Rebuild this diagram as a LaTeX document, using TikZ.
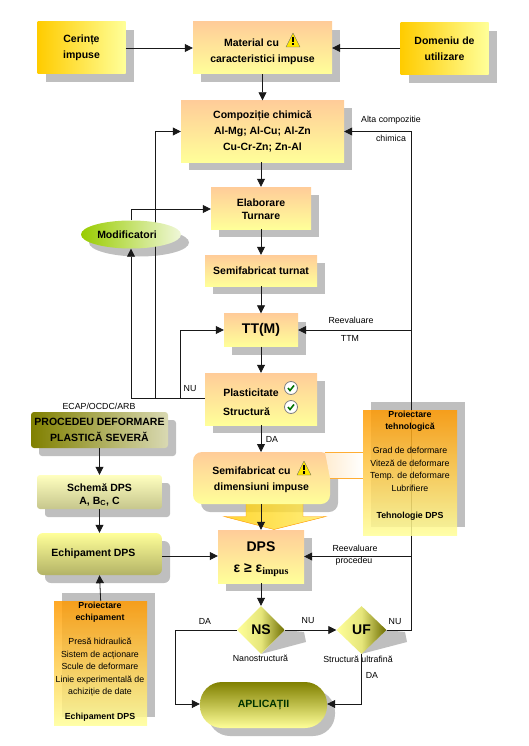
\documentclass[tikz,border=0pt]{standalone}
\usepackage{fontspec}
\setmainfont{Liberation Sans}
\newfontfamily\serifsub{Liberation Serif}
\usetikzlibrary{shapes.geometric,shadows,arrows.meta}
\definecolor{umbra}{HTML}{BFBFBF}
\definecolor{piersica}{HTML}{FFCC99}
\definecolor{galben}{HTML}{FFFF99}
\definecolor{oliv}{HTML}{808000}
\definecolor{auriu}{HTML}{FFCC00}
\definecolor{portocal}{HTML}{FF9900}
\definecolor{verde}{HTML}{99CC00}
\tikzset{
bloc/.style={rectangle, inner sep=1pt, align=center, font=\fontsize{10.5}{16}\bfseries},
umbrit/.style={drop shadow={shadow xshift=8pt, shadow yshift=-8pt, fill=umbra, opacity=1}},
cald/.style={top color=piersica, bottom color=galben},
lateral/.style={left color=auriu, right color=galben},
fl/.style={thick, -{Triangle[length=8pt,width=8pt]}, black!90},
eti/.style={font=\fontsize{8.8}{12.4}\selectfont, inner sep=0pt, align=center},
romb/.style={diamond, inner sep=0pt, minimum width=#1, minimum height=48pt, left color=galben, right color=oliv!85!black, middle color=galben!80!oliv, font=\fontsize{14}{15}\bfseries},
romb/.default=48pt,
proiect/.style={rectangle, inner sep=0pt, top color=portocal, bottom color=galben, fill opacity=.85, anchor=north west},
avert/.pic={
\fill[draw=black!60, fill=yellow!90!orange, line join=round] (-7,7) -- (0,-7) -- (7,7) -- cycle;
\fill (-1,-3) rectangle (1,2);
\fill (-1,3) rectangle (1,5.5);
},
bifa/.pic={
\fill[white, draw=black!50, thick] (0,0) circle (6.5);
\draw[green!45!black, line width=1.6pt] (-3,0) -- (-1,2.5) -- (3,-2.5);
},
}
\begin{document}
\begin{tikzpicture}[x=1pt,y=-1pt]
\useasboundingbox (0,0) rectangle (529,746);

\node[bloc, umbrit, lateral, minimum width=88pt, minimum height=52pt] (Cer) at (81.5,48) {Cerințe\\impuse};
\node[bloc, umbrit, cald, minimum width=139pt, minimum height=52pt] (Mat) at (262.5,48) {\rule{0pt}{16pt}Material cu\kern22pt\\caracteristici impuse};
\node[bloc, umbrit, lateral, minimum width=88pt, minimum height=52pt] (Dom) at (444.5,49) {Domeniu de\\utilizare};
\node[bloc, umbrit, cald, minimum width=163pt, minimum height=62pt] (Comp) at (262.5,131.5) {Compoziție chimică\\Al-Mg; Al-Cu; Al-Zn\\Cu-Cr-Zn; Zn-Al};
\node[bloc, umbrit, cald, minimum width=100pt, minimum height=42pt, font=\fontsize{10.5}{13}\bfseries] (Ela) at (261,208) {\rule{0pt}{11pt}Elaborare\\Turnare};
\node[bloc, umbrit, cald, minimum width=112pt, minimum height=31pt] (Sft) at (261,270.5) {Semifabricat turnat};
\node[bloc, umbrit, cald, minimum width=74pt, minimum height=33pt, font=\fontsize{14}{16}\bfseries] (TT) at (261,330) {TT(M)};
\node[bloc, umbrit, cald, minimum width=112pt, minimum height=52pt, font=\fontsize{10.5}{19}\bfseries] (Pla) at (261,399) {\rule{0pt}{14pt}Plasticitate\kern20pt\\Structură\kern29pt};

\fill[umbra, rounded corners=9pt] (201,460) rectangle (338,512);
\shade[left color=auriu, right color=galben!60!auriu, fill opacity=.8, draw=portocal, thin] (246,500) -- (246,516.5) -- (224,516.5) -- (274,529.5) -- (326,516.5) -- (303,516.5) -- (303,500) -- cycle;
\node[bloc, cald, rounded corners=9pt, minimum width=137pt, minimum height=52pt] (Sem) at (261.5,478) {\rule{0pt}{12pt}Semifabricat cu\kern20pt\\dimensiuni impuse};
\shade[left color=portocal!18, right color=white] (325,452) -- (363,452) -- (363,478) -- (330,478) -- cycle;
\draw[portocal!80] (325,452) -- (363,452);
\draw[portocal!80] (330,478) -- (363,478);

\node[bloc, umbrit, cald, minimum width=86pt, minimum height=53pt, font=\fontsize{14}{21}\bfseries] (DPS) at (261,556.5) {\rule{0pt}{16pt}DPS\\ε ≥ ε\raisebox{-2pt}{\fontsize{10}{10}\serifsub\bfseries impus}};

\fill[umbra] (285,630) -- (304,632) -- (306,642) -- (261,654) -- cycle;
\fill[umbra] (386,630) -- (405,632) -- (407,642) -- (361,654) -- cycle;
\node[romb] (NS) at (261,630) {NS};
\node[romb=50pt] (UF) at (361.5,630) {UF};

\node[bloc, umbrit, rounded corners=22pt, top color=oliv, bottom color=galben, minimum width=127pt, minimum height=46pt, text=green!20!black] (Apl) at (263.5,705) {APLICAȚII};

\node[bloc, umbrit, rounded corners=3pt, left color=oliv, right color=oliv!30!white, minimum width=137pt, minimum height=36pt] (Proc) at (99.5,430) {PROCEDEU DEFORMARE\\PLASTICĂ SEVERĂ};
\node[bloc, umbrit, rounded corners=3pt, top color=yellow!25!white, bottom color=oliv!45!white, minimum width=125pt, minimum height=34pt, font=\fontsize{10.5}{13}\bfseries] (Sch) at (99.5,492) {\rule{0pt}{13pt}Schemă DPS\\A, B\textsubscript{C}, C};
\node[bloc, umbrit, rounded corners=6pt, top color=galben, bottom color=oliv!60!white, minimum width=125pt, minimum height=42pt] (Ech) at (99.5,554) {\kern-12pt Echipament DPS};

\fill[umbra] (62,593) rectangle (155,717);
\node[proiect, minimum width=93pt, minimum height=124pt] (PrE) at (54,601) {};
\fill[umbra] (371,402) rectangle (465,527);

\node[ellipse, inner sep=0pt, fill=umbra, minimum width=100pt, minimum height=28pt] (ModS) at (139,242.5) {};
\draw[fl] (Pla.west |- 0,398) -- (155,398) -- (155,131.5) -- (Comp.west |- 0,131.5);
\node[ellipse, inner sep=0pt, left color=verde, right color=verde!15!white, minimum width=100pt, minimum height=28pt, font=\fontsize{10.5}{12}\bfseries] (Mod) at (131,234.5) {\kern-8pt Modificatori};
\draw[fl] (Mod.north) -- (131,209) -- (Ela.west |- 0,209);
\draw[fl] (155,398) -- (131,398) -- (Mod.south);
\draw[fl] (180,398) -- (180,330) -- (TT.west);

\draw[fl] (Cer.east |- 0,48) -- (Mat.west);
\draw[fl] (Dom.west |- 0,48) -- (Mat.east);
\draw[fl] (Mat.south) -- (Comp.north);
\draw[fl] (261,162.5) -- (Ela.north);
\draw[fl] (Ela.south) -- (Sft.north);
\draw[fl] (Sft.south) -- (TT.north);
\draw[fl] (TT.south) -- (Pla.north);
\draw[fl] (Pla.south) -- (261,452);
\draw[fl] (261,504) -- (DPS.north);
\draw[fl] (DPS.south) -- (NS.north);
\draw[fl] (NS.east) -- (UF.west);
\draw[fl] (NS.west) -- (175.5,630) -- (175.5,704) -- (Apl.west |- 0,704);
\draw[fl] (UF.south) -- (361.5,704) -- (Apl.east |- 0,704);
\draw[fl] (UF.east) -- (411,630) -- (411,556.5) -- (DPS.east);
\draw[fl] (411,556.5) -- (411,131.5) -- (Comp.east |- 0,131.5);
\draw[fl] (411,330) -- (TT.east);
\draw[fl] (Ech.east |- 0,556) -- (DPS.west |- 0,556);
\draw[fl] (Proc.south) -- (Sch.north);
\draw[fl] (Sch.south) -- (Ech.north);
\draw[fl] (PrE.north) -- (Ech.south);

\node[proiect, minimum width=94pt, minimum height=125pt] (PrT) at (363,410) {};
\node[eti, anchor=north] (PrTt) at (410,411) {\bfseries Proiectare\\\bfseries tehnologică\\[11.6pt]Grad de deformare\\Viteză de deformare\\Temp. de deformare\\Lubrifiere\\[14.6pt]\bfseries Tehnologie DPS};
\node[eti, anchor=north] (PrEt) at (100,602) {\bfseries Proiectare\\\bfseries echipament\\[11.6pt]Presă hidraulică\\Sistem de acționare\\Scule de deformare\\Linie experimentală de\\achiziție de date\\[12.6pt]\bfseries Echipament DPS};

\pic at (293,40) {avert};
\pic at (304,468) {avert};
\pic at (291,388) {bifa};
\pic at (291,407) {bifa};

\node[eti] (l1) at (391,120) {Alta compozitie};
\node[eti] (l2) at (391,138) {chimica};
\node[eti] (l3) at (351,320) {Reevaluare};
\node[eti] (l4) at (350,338) {TTM};
\node[eti] (l5) at (355,548) {Reevaluare};
\node[eti] (l6) at (354,561) {procedeu};
\node[eti] (l7) at (190,389) {NU};
\node[eti] (l8) at (99,406) {ECAP/OCDC/ARB};
\node[eti] (l9) at (272,439) {DA};
\node[eti] (l10) at (205,621) {DA};
\node[eti] (l11) at (308,621) {NU};
\node[eti] (l12) at (395,622) {NU};
\node[eti] (l13) at (372,675) {DA};
\node[eti] (l14) at (260.5,658) {Nanostructură};
\node[eti] (l15) at (358,659) {Structură ultrafină};
\end{tikzpicture}
\end{document}
